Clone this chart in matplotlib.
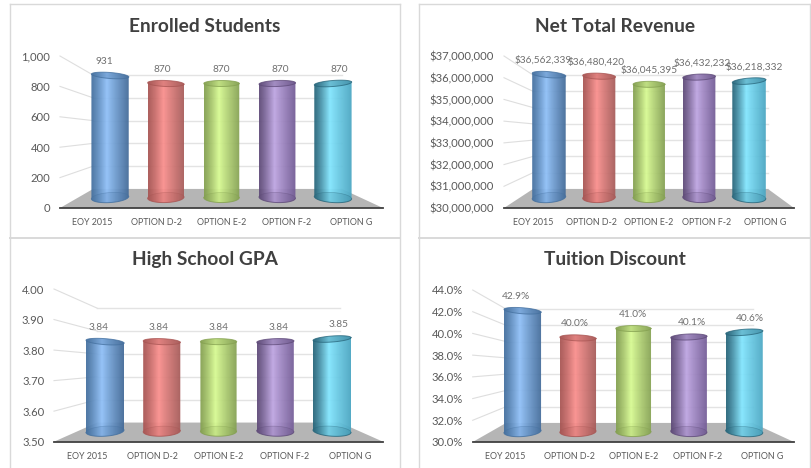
import numpy as np
import matplotlib.pyplot as plt
from matplotlib.colors import to_rgb
from matplotlib.patches import Polygon

plt.rcParams['font.family'] = ['Lato', 'DejaVu Sans']

categories = ['EOY 2015', 'OPTION D-2', 'OPTION E-2', 'OPTION F-2', 'OPTION G']

students = [931, 870, 870, 870, 870]
students_labels = ['931', '870', '870', '870', '870']
students_ticks = [0, 200, 400, 600, 800, 1000]
students_ticklabels = ['0', '200', '400', '600', '800', '1,000']

revenue = [36562339, 36480420, 36045395, 36432232, 36218332]
revenue_labels = ['$36,562,339', '$36,480,420', '$36,045,395', '$36,432,232', '$36,218,332']
revenue_ticks = [30000000, 31000000, 32000000, 33000000, 34000000, 35000000, 36000000, 37000000]
revenue_ticklabels = ['$30,000,000', '$31,000,000', '$32,000,000', '$33,000,000',
                      '$34,000,000', '$35,000,000', '$36,000,000', '$37,000,000']

gpa = [3.84, 3.84, 3.84, 3.84, 3.85]
gpa_labels = ['3.84', '3.84', '3.84', '3.84', '3.85']
gpa_ticks = [3.5, 3.6, 3.7, 3.8, 3.9, 4.0]
gpa_ticklabels = ['3.50', '3.60', '3.70', '3.80', '3.90', '4.00']

discount = [42.9, 40.0, 41.0, 40.1, 40.6]
discount_labels = ['42.9%', '40.0%', '41.0%', '40.1%', '40.6%']
discount_ticks = [30, 32, 34, 36, 38, 40, 42, 44]
discount_ticklabels = ['30.0%', '32.0%', '34.0%', '36.0%', '38.0%', '40.0%', '42.0%', '44.0%']

# left edge, light middle, right edge
palette = [('#44709f', '#8fc0f8', '#426a98'),
           ('#a85553', '#fb8f8d', '#a45a58'),
           ('#84a050', '#d8fb92', '#84a052'),
           ('#5e4a78', '#bea5e2', '#715a94'),
           ('#27657a', '#82e6ff', '#4aa6c2')]

W, H = 812, 468
fig = plt.figure(figsize=(W / 100, H / 100), dpi=100, facecolor='white')

# full-figure overlay in pixels for the panel frames
bg = fig.add_axes([0, 0, 1, 1])
bg.set_xlim(0, W)
bg.set_ylim(H, 0)
bg.axis('off')
for x0, x1 in [(10, 400), (419, 810)]:
    bg.plot([x0, x1], [4, 4], color='#d9d9d9', lw=1)
    bg.plot([x0, x1], [238, 238], color='#d9d9d9', lw=1.4)
    bg.plot([x0, x0], [4, H], color='#d9d9d9', lw=1)
    bg.plot([x1, x1], [4, H], color='#d9d9d9', lw=1)


def project(x, frac, depth):
    # axes-data x, value fraction -> where it lands at this depth of the 3D box
    s = 1 - 0.25 * depth
    return 2 + (x - 2) * s, 0.125 * depth + frac * s


def cylinder(ax, i, value, lo, hi, colors):
    frac = (value - lo) / (hi - lo)
    cx, base = project(i, 0, 0.55)
    _, top = project(i, frac, 0.55)
    rw = 0.275 * (1 + 0.025 * abs(i - 2))
    t = np.linspace(0, np.pi, 40)
    box_h = ax.get_position().height * H
    px = 1 / box_h
    ex = rw * np.cos(t)
    # tops and bases lean opposite ways towards the vanishing point
    lean_top = (i - 2) * 0.7 * px * ex / rw
    lean_bot = -(i - 2) * 0.6 * px * ex / rw
    top_back = top + 3.0 * px * np.sin(t) + lean_top
    top_front = top - 3.0 * px * np.sin(t) + lean_top
    bot_back = base + 5.0 * px * np.sin(t) + lean_bot
    bot_front = base - 5.0 * px * np.sin(t) + lean_bot
    # outline of body: back of the top, then down round the front of the base
    xs = np.r_[cx + ex, cx + ex[::-1]]
    body = Polygon(np.c_[xs, np.r_[top_back, bot_front[::-1]]], closed=True,
                   transform=ax.transData, fc='none', ec='none')
    ax.add_patch(body)

    u = np.linspace(0, 1, 80)[:, None]
    c0, c1, c2 = [np.array(to_rgb(c)) for c in colors]
    shade = np.where(u < 0.42, c0 + (c1 - c0) * (u / 0.42) ** 1.2,
                     c1 + (c2 - c1) * ((u - 0.42) / 0.58) ** 0.9)
    rgba = np.dstack([shade[None, :, 0], shade[None, :, 1], shade[None, :, 2],
                      np.full((1, 80), 0.94)])
    im = ax.imshow(rgba, extent=[cx - rw, cx + rw, base - 9 * px, top + 7 * px],
                   aspect='auto', zorder=3, interpolation='bilinear')
    im.set_clip_path(body)

    lip = np.r_[top_back, top_front[::-1]]
    ax.fill(xs, lip, color=colors[0], alpha=0.3, zorder=4, lw=0)
    ax.plot(np.r_[xs, xs[0]], np.r_[lip, lip[0]], color=colors[0], lw=0.7, alpha=0.75, zorder=5)
    low = np.r_[bot_back, bot_front[::-1]]
    ax.fill(xs, low, color=colors[0], alpha=0.16, zorder=4, lw=0)
    ax.plot(cx + ex[::-1], bot_back[::-1], color=colors[0], lw=0.5, alpha=0.4, zorder=5)
    ax.plot(cx + ex[::-1], bot_front[::-1], color=colors[0], lw=0.7, alpha=0.8, zorder=5)


def panel(box, back_x, title, title_x, title_y, values, labels, ticks, ticklabels):
    left, right, top, bottom = box
    ax = fig.add_axes([left / W, 1 - bottom / H, (right - left) / W, (bottom - top) / H])
    ax.patch.set_alpha(0)
    lo, hi = ticks[0], ticks[-1]
    bl = -0.5 + 5 * (back_x[0] - left) / (right - left)
    br = -0.5 + 5 * (back_x[1] - left) / (right - left)

    # back wall gridlines and the spokes that run to the front axis
    for tk in ticks:
        f = (tk - lo) / (hi - lo)
        _, yb = project(0, f, 1)
        ax.plot([bl, br], [yb, yb], color='#e3e3e3', lw=1, zorder=1, clip_on=False)
        if tk != lo:
            ax.plot([-0.5, bl], [f, yb], color='#dedede', lw=0.8, zorder=1, clip_on=False)

    _, yfloor = project(0, 0, 1)
    ax.add_patch(Polygon([(-0.5, 0), (4.5, 0), (br, yfloor), (bl, yfloor)], closed=True,
                         fc='#b5b5b5', ec='none', zorder=2, clip_on=False))

    for i, v in enumerate(values):
        cylinder(ax, i, v, lo, hi, palette[i])
        lx = 2 + (i - 2) * 0.91
        _, ty = project(i, (v - lo) / (hi - lo), 0.55)
        ax.annotate(labels[i], (lx, ty), xytext=(0, 10.2), textcoords='offset points',
                    ha='center', va='center', fontsize=7.3, color='#6f6f6f', zorder=6,
                    annotation_clip=False)

    ax.set_xlim(-0.5, 4.5)
    ax.set_ylim(0, 1)
    for s in ['top', 'left', 'right']:
        ax.spines[s].set_visible(False)
    ax.spines['bottom'].set_color('#404040')
    ax.spines['bottom'].set_linewidth(1.3)
    ax.spines['bottom'].set_zorder(7)
    ax.set_xticks(range(5))
    ax.set_xticklabels(categories, fontsize=6.4, color='#595959')
    ax.set_yticks([(t - lo) / (hi - lo) for t in ticks])
    ax.set_yticklabels(ticklabels, fontsize=8.1, color='#595959')
    ax.tick_params(axis='both', length=0)
    ax.tick_params(axis='x', pad=7.5)
    ax.tick_params(axis='y', pad=7)
    fig.text(title_x / W, 1 - title_y / H, title, ha='center', va='center',
             fontsize=13.8, fontweight='bold', color='#404040')


panel((60, 383, 56, 208), (93, 342), 'Enrolled Students', 205, 26,
      students, students_labels, students_ticks, students_ticklabels)
panel((504, 794, 56, 208), (533, 768), 'Net Total Revenue', 615, 26,
      revenue, revenue_labels, revenue_ticks, revenue_ticklabels)
panel((54, 383, 289, 441.7), (97, 340), 'High School GPA', 205, 259.5,
      gpa, gpa_labels, gpa_ticks, gpa_ticklabels)
panel((472.7, 794, 290, 442), (506, 752.7), 'Tuition Discount', 615, 259.5,
      discount, discount_labels, discount_ticks, discount_ticklabels)

fig.savefig('out.png', dpi=100)
